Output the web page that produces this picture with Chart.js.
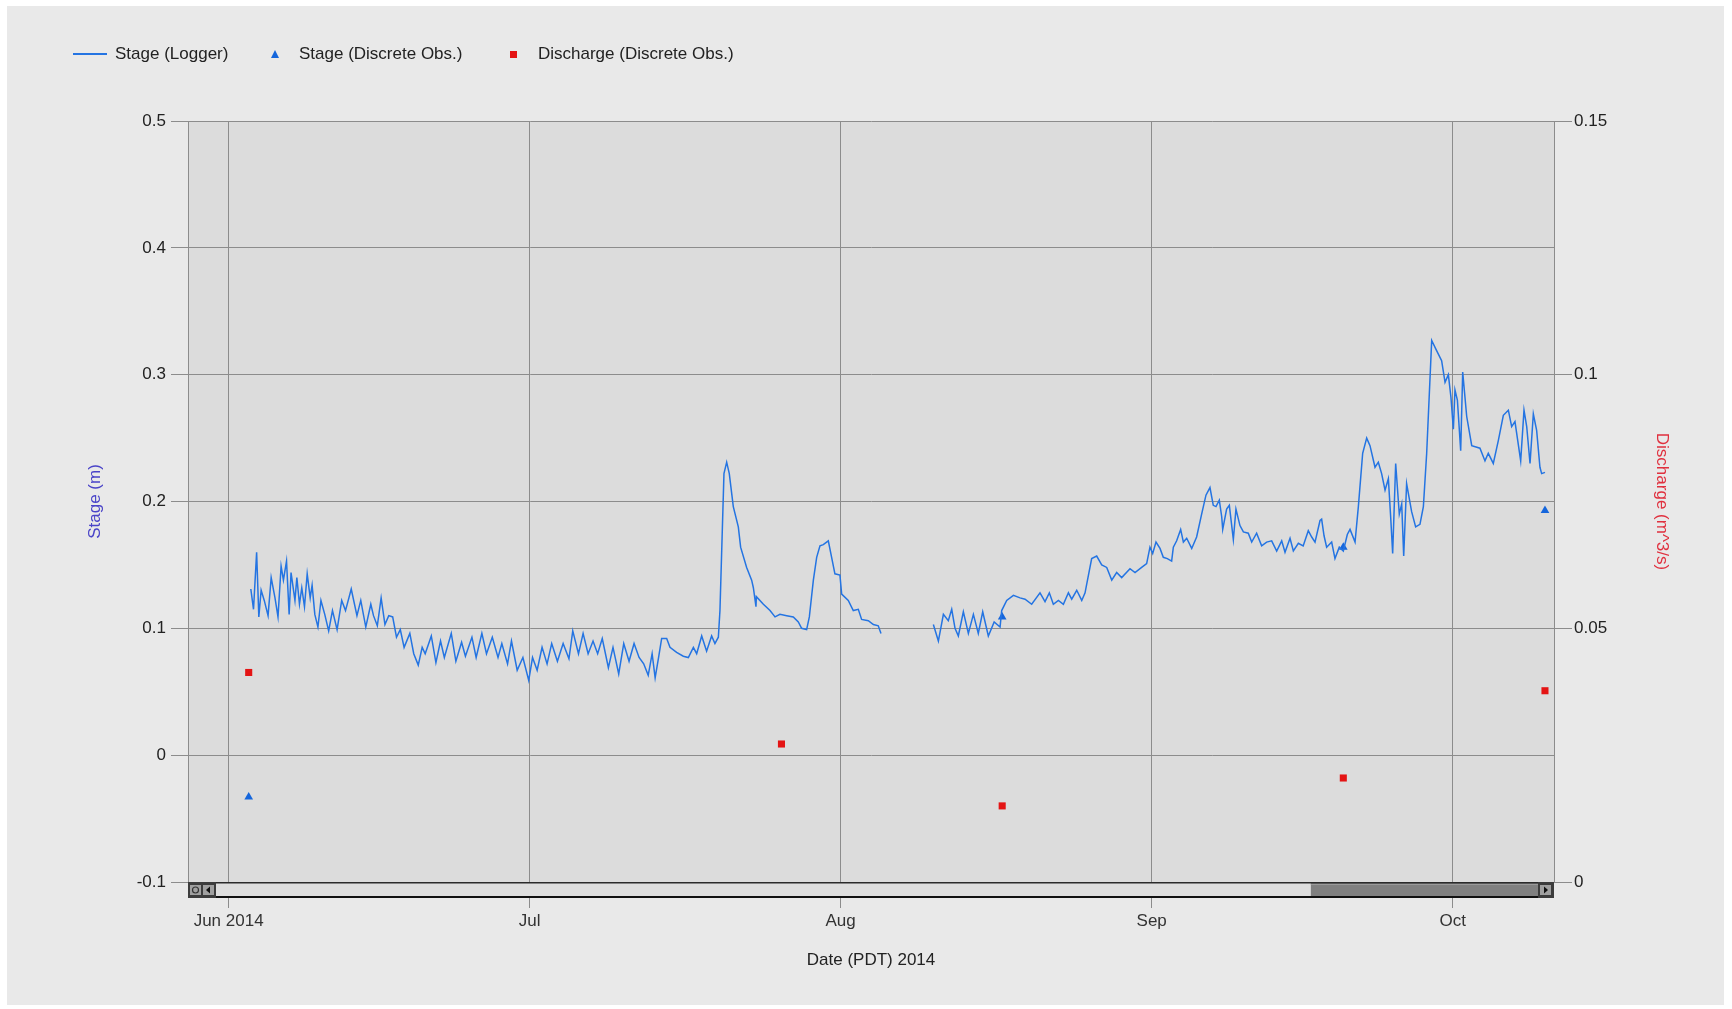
<!DOCTYPE html>
<html>
<head>
<meta charset="utf-8">
<title>Stage and Discharge 2014</title>
<script src="https://cdn.jsdelivr.net/npm/chart.js@4.4.1/dist/chart.umd.min.js"></script>
<style>
  html, body { margin: 0; padding: 0; background: #ffffff; width: 1732px; height: 1009px; overflow: hidden; }
  body { font-family: "Liberation Sans", Arial, sans-serif; }
  #panel { position: absolute; left: 7px; top: 6px; width: 1717px; height: 999px; background: #e9e9e9; }
  #chart { position: absolute; left: 0; top: 0; }
  .lg-text { position: absolute; top: 44px; height: 20px; line-height: 20px; font-size: 17px; color: #222; white-space: nowrap; }
  .lg-mark { position: absolute; }
</style>
</head>
<body>
<div id="panel"></div>
<canvas id="chart" width="1732" height="1009"></canvas>
<div id="legend"></div>
<script>
// Time axis: days since 1 Jun 2014 00:00 PDT
const monthStartDays = [0, 30, 61, 92, 122];
const monthTickLabels = ['Jun 2014', 'Jul', 'Aug', 'Sep', 'Oct'];

// Logger stage record (m); null marks the data gap in early August
const loggerDays = [
  2.21, 2.48, 2.79, 3.01, 3.24, 3.55, 3.93, 4.24, 4.62, 4.92,
  5.23, 5.46, 5.77, 6.03, 6.22, 6.61, 6.80, 7.06, 7.29, 7.56,
  7.83, 8.13, 8.32, 8.59, 8.90, 9.20, 9.58, 9.97, 10.35, 10.81,
  11.27, 11.65, 12.22, 12.79, 13.17, 13.67, 14.17, 14.44, 14.82, 15.20,
  15.58, 15.96, 16.35, 16.73, 17.11, 17.49, 18.06, 18.45, 18.90, 19.29,
  19.59, 20.20, 20.66, 21.12, 21.50, 22.19, 22.65, 23.22, 23.60, 24.25,
  24.67, 25.24, 25.70, 26.28, 26.85, 27.23, 27.80, 28.19, 28.76, 29.33,
  29.91, 30.29, 30.75, 31.24, 31.74, 32.20, 32.77, 33.34, 33.92, 34.30,
  34.87, 35.33, 35.83, 36.32, 36.78, 37.24, 37.85, 38.31, 38.88, 39.38,
  39.91, 40.41, 40.91, 41.37, 41.82, 42.21, 42.51, 42.85, 43.16, 43.66,
  43.99, 44.65, 45.32, 45.82, 46.32, 46.65, 47.15, 47.64, 48.14, 48.47,
  48.81, 48.97, 49.37, 49.64, 49.90, 50.30, 50.80, 51.03, 51.63, 52.13,
  52.30, 52.56, 52.60, 53.30, 53.96, 54.46, 54.95, 55.62, 56.28, 56.78,
  57.11, 57.61, 57.88, 58.28, 58.61, 58.94, 59.27, 59.77, 60.10, 60.43,
  60.93, 61.10, 61.76, 62.26, 62.76, 63.09, 63.76, 64.26, 64.75, 65.02,
  67.60,
  70.24, 70.74, 71.24, 71.73, 72.07, 72.40, 72.73, 73.23, 73.73, 74.23,
  74.72, 75.16, 75.72, 76.30, 76.89, 77.05, 77.55, 78.22, 78.88, 79.38,
  80.04, 80.87, 81.37, 81.80, 82.20, 82.70, 83.20, 83.70, 84.03, 84.53,
  85.03, 85.36, 85.53, 86.02, 86.52, 87.02, 87.52, 88.02, 88.51, 89.01,
  89.84, 90.34, 91.00, 91.50, 91.83, 92.10, 92.43, 92.83, 93.16, 93.56,
  93.99, 94.16, 94.49, 94.89, 95.16, 95.49, 95.99, 96.48, 96.98, 97.41,
  97.81, 98.14, 98.41, 98.74, 98.98, 99.08, 99.47, 99.74, 100.14, 100.40,
  100.80, 101.14, 101.63, 101.97, 102.46, 102.96, 103.46, 103.96, 104.46, 104.96,
  105.29, 105.79, 106.12, 106.62, 107.10, 107.61, 107.95, 108.28, 108.78, 108.94,
  109.18, 109.44, 109.94, 110.27, 110.70, 111.10, 111.50, 111.77, 112.27, 112.60,
  113.03, 113.43, 113.76, 114.26, 114.59, 114.92, 115.26, 115.59, 115.82, 116.02,
  116.32, 116.68, 116.92, 117.12, 117.41, 117.91, 118.31, 118.74, 119.08, 119.41,
  119.91, 120.40, 120.90, 121.24, 121.57, 121.83, 122.07, 122.23, 122.47, 122.80,
  123.00, 123.40, 123.90, 124.72, 125.22, 125.55, 126.05, 126.55, 127.05, 127.55,
  127.88, 128.21, 128.78, 129.11, 129.38, 129.71, 130.04, 130.37, 130.70, 130.87,
  131.20
];
const loggerStage = [
  0.131, 0.115, 0.160, 0.109, 0.130, 0.122, 0.110, 0.140, 0.124, 0.109,
  0.149, 0.138, 0.153, 0.111, 0.144, 0.122, 0.140, 0.119, 0.132, 0.117,
  0.143, 0.124, 0.134, 0.111, 0.101, 0.122, 0.111, 0.098, 0.114, 0.099,
  0.122, 0.114, 0.131, 0.110, 0.122, 0.101, 0.119, 0.110, 0.102, 0.124,
  0.103, 0.110, 0.109, 0.093, 0.099, 0.085, 0.096, 0.080, 0.071, 0.085,
  0.080, 0.094, 0.073, 0.090, 0.077, 0.096, 0.074, 0.089, 0.078, 0.093,
  0.077, 0.096, 0.080, 0.093, 0.077, 0.088, 0.072, 0.090, 0.067, 0.077,
  0.059, 0.077, 0.067, 0.085, 0.072, 0.088, 0.074, 0.088, 0.076, 0.098,
  0.080, 0.096, 0.080, 0.090, 0.080, 0.092, 0.069, 0.085, 0.064, 0.088,
  0.074, 0.088, 0.077, 0.072, 0.063, 0.080, 0.061, 0.077, 0.092, 0.092,
  0.085, 0.081, 0.078, 0.077, 0.085, 0.080, 0.094, 0.082, 0.094, 0.088,
  0.093, 0.114, 0.222, 0.231, 0.222, 0.196, 0.180, 0.164, 0.148, 0.138,
  0.132, 0.117, 0.125, 0.119, 0.114, 0.109, 0.111, 0.110, 0.109, 0.105,
  0.100, 0.099, 0.109, 0.138, 0.156, 0.165, 0.166, 0.169, 0.156, 0.143,
  0.142, 0.127, 0.122, 0.114, 0.115, 0.107, 0.106, 0.103, 0.102, 0.096,
  null,
  0.103, 0.090, 0.111, 0.106, 0.115, 0.100, 0.094, 0.113, 0.096, 0.111,
  0.096, 0.113, 0.094, 0.105, 0.101, 0.114, 0.122, 0.126, 0.124, 0.123,
  0.119, 0.128, 0.121, 0.128, 0.119, 0.122, 0.119, 0.128, 0.123, 0.130,
  0.122, 0.128, 0.135, 0.155, 0.157, 0.150, 0.148, 0.138, 0.144, 0.140,
  0.147, 0.144, 0.148, 0.151, 0.164, 0.159, 0.168, 0.163, 0.156, 0.155,
  0.153, 0.164, 0.169, 0.178, 0.168, 0.171, 0.163, 0.172, 0.190, 0.205,
  0.211, 0.197, 0.196, 0.201, 0.188, 0.178, 0.194, 0.197, 0.170, 0.194,
  0.181, 0.176, 0.175, 0.168, 0.175, 0.165, 0.168, 0.169, 0.161, 0.169,
  0.160, 0.171, 0.161, 0.167, 0.165, 0.177, 0.172, 0.168, 0.185, 0.186,
  0.173, 0.164, 0.168, 0.155, 0.164, 0.161, 0.174, 0.178, 0.168, 0.196,
  0.238, 0.250, 0.244, 0.227, 0.231, 0.222, 0.209, 0.218, 0.188, 0.159,
  0.230, 0.190, 0.198, 0.157, 0.214, 0.192, 0.180, 0.182, 0.196, 0.238,
  0.327, 0.319, 0.311, 0.294, 0.300, 0.282, 0.257, 0.288, 0.280, 0.240,
  0.302, 0.267, 0.244, 0.242, 0.232, 0.238, 0.230, 0.248, 0.268, 0.272,
  0.259, 0.263, 0.232, 0.272, 0.259, 0.230, 0.269, 0.256, 0.227, 0.222,
  0.223
];

// Field visits: discrete stage (m) and discharge (m^3/s)
const visitDays = [2.0, 55.1, 77.1, 111.1, 131.2];
const visitStage = [-0.033, null, 0.109, 0.164, 0.193];
const visitDischarge = [0.0413, 0.0272, 0.0150, 0.0205, 0.0377];

const seriesLabels = ['Stage (Logger)', 'Stage (Discrete Obs.)', 'Discharge (Discrete Obs.)'];
const seriesColors = ['#2474e2', '#1566dc', '#e41414'];

const FONT = '"Liberation Sans", Arial, sans-serif';
const GRID = '#8c8c8c';

// Plain decimal tick text ("0", "0.05", "0.1", "-0.1")
const tickText = v => String(Number(Number(v).toFixed(3)) || 0);

// Plot background and the range scrollbar under the plot
const plotChrome = {
  id: 'plotChrome',
  beforeDraw(chart) {
    const { ctx, chartArea: a } = chart;
    ctx.save();
    ctx.fillStyle = '#dcdcdc';
    ctx.fillRect(a.left, a.top, a.right - a.left, a.bottom - a.top);
    ctx.restore();
  },
  afterDraw(chart) {
    const { ctx, chartArea: a } = chart;
    const y0 = a.bottom, h = 16, w = a.right - a.left;
    ctx.save();
    ctx.fillStyle = '#dedede';
    ctx.fillRect(a.left, y0, w, h);
    // thumb
    const t0 = a.left + w * 0.822, t1 = a.right - 16;
    ctx.fillStyle = '#808080';
    ctx.fillRect(t0, y0 + 1, t1 - t0, h - 2);
    ctx.fillStyle = '#9a9a9a';
    ctx.fillRect(t0, y0 + 2, t1 - t0, 1);
    // frame lines
    ctx.fillStyle = '#2a2a2a';
    ctx.fillRect(a.left, y0, w, 1.5);
    ctx.fillStyle = '#111';
    ctx.fillRect(a.left, y0 + h - 2, w, 2);
    // left buttons
    ctx.fillStyle = '#3c3c3c';
    ctx.fillRect(a.left, y0, 28, h);
    ctx.fillStyle = '#a0a0a0';
    ctx.fillRect(a.left + 2, y0 + 3, 11, h - 6);
    ctx.fillRect(a.left + 15, y0 + 3, 11, h - 6);
    ctx.strokeStyle = '#333';
    ctx.lineWidth = 1.2;
    ctx.beginPath();
    ctx.arc(a.left + 7.5, y0 + h / 2, 3, 0, Math.PI * 2);
    ctx.stroke();
    ctx.fillStyle = '#111';
    ctx.beginPath();
    ctx.moveTo(a.left + 18, y0 + h / 2);
    ctx.lineTo(a.left + 22, y0 + h / 2 - 3.5);
    ctx.lineTo(a.left + 22, y0 + h / 2 + 3.5);
    ctx.closePath();
    ctx.fill();
    // right button
    ctx.fillStyle = '#3c3c3c';
    ctx.fillRect(a.right - 16, y0, 16, h);
    ctx.fillStyle = '#a0a0a0';
    ctx.fillRect(a.right - 14, y0 + 3, 11, h - 6);
    ctx.fillStyle = '#111';
    ctx.beginPath();
    ctx.moveTo(a.right - 6, y0 + h / 2);
    ctx.lineTo(a.right - 10, y0 + h / 2 - 3.5);
    ctx.lineTo(a.right - 10, y0 + h / 2 + 3.5);
    ctx.closePath();
    ctx.fill();
    ctx.restore();
  }
};

const loggerPoints = loggerDays.map((d, i) => ({ x: d, y: loggerStage[i] }));
const stagePoints = visitDays.map((d, i) => ({ x: d, y: visitStage[i] })).filter(p => p.y !== null);
const dischargePoints = visitDays.map((d, i) => ({ x: d, y: visitDischarge[i] }));

Chart.defaults.font.family = FONT;
Chart.defaults.font.size = 17;
Chart.defaults.color = '#222';

const chart = new Chart(document.getElementById('chart'), {
  type: 'line',
  data: {
    datasets: [
      {
        label: seriesLabels[0],
        data: loggerPoints,
        yAxisID: 'y',
        borderColor: seriesColors[0],
        borderWidth: 1.5,
        pointRadius: 0,
        tension: 0,
        spanGaps: false
      },
      {
        label: seriesLabels[1],
        data: stagePoints,
        yAxisID: 'y',
        showLine: false,
        pointStyle: 'triangle',
        pointRadius: 5,
        pointBorderWidth: 0,
        pointBackgroundColor: seriesColors[1],
        borderColor: seriesColors[1]
      },
      {
        label: seriesLabels[2],
        data: dischargePoints,
        yAxisID: 'y2',
        showLine: false,
        pointStyle: 'rect',
        pointRadius: 5,
        pointBorderWidth: 0,
        pointBackgroundColor: seriesColors[2],
        borderColor: seriesColors[2]
      }
    ]
  },
  options: {
    responsive: false,
    animation: false,
    devicePixelRatio: 1,
    layout: { padding: { top: 121, left: 0, right: 0, bottom: 0 } },
    plugins: {
      legend: { display: false },
      tooltip: { enabled: false }
    },
    scales: {
      x: {
        type: 'linear',
        min: -4.05,
        max: 132.1,
        afterBuildTicks(scale) { scale.ticks = monthStartDays.map(v => ({ value: v })); },
        afterFit(scale) { scale.height = 127; },
        ticks: {
          autoSkip: false,
          maxRotation: 0,
          padding: 3,
          color: '#333',
          callback: (value, index) => monthTickLabels[index]
        },
        grid: { color: GRID, lineWidth: 1, tickLength: 26, drawOnChartArea: true },
        border: { display: false },
        title: { display: true, text: 'Date (PDT) 2014', color: '#222', padding: { top: 0, bottom: 38 } }
      },
      y: {
        position: 'left',
        min: -0.1,
        max: 0.5,
        afterFit(scale) { scale.width = 188; },
        ticks: { stepSize: 0.1, padding: 5, color: '#222', callback: tickText },
        grid: { color: GRID, lineWidth: 1, tickLength: 17 },
        border: { display: true, color: GRID, width: 1 },
        title: { display: true, text: 'Stage (m)', color: '#4a44c8', padding: { top: 85, bottom: 0 } }
      },
      y2: {
        position: 'right',
        min: 0,
        max: 0.15,
        afterFit(scale) { scale.width = 178; },
        ticks: { stepSize: 0.05, padding: 2, color: '#222', callback: tickText },
        grid: { color: GRID, lineWidth: 1, tickLength: 18, drawOnChartArea: false },
        border: { display: true, color: GRID, width: 1 },
        title: { display: true, text: 'Discharge (m^3/s)', color: '#e0303e', padding: { top: 60, bottom: 0 } }
      }
    }
  },
  plugins: [plotChrome]
});

// Legend row above the plot, built from the chart's datasets
const legendSpots = [
  { mark: { left: 73, top: 53, width: 34, height: 2 }, text: 115 },
  { mark: { left: 270.5, top: 50 }, text: 299 },
  { mark: { left: 510, top: 50.5, width: 7, height: 7 }, text: 538 }
];
const legend = document.getElementById('legend');
chart.data.datasets.forEach((ds, i) => {
  const spot = legendSpots[i];
  const mark = document.createElement('div');
  mark.className = 'lg-mark';
  mark.style.left = spot.mark.left + 'px';
  mark.style.top = spot.mark.top + 'px';
  if (ds.pointStyle === 'triangle') {
    mark.style.width = '0';
    mark.style.height = '0';
    mark.style.borderLeft = '4.5px solid transparent';
    mark.style.borderRight = '4.5px solid transparent';
    mark.style.borderBottom = '8px solid ' + ds.pointBackgroundColor;
  } else {
    mark.style.width = spot.mark.width + 'px';
    mark.style.height = spot.mark.height + 'px';
    mark.style.background = ds.pointStyle === 'rect' ? ds.pointBackgroundColor : ds.borderColor;
  }
  legend.appendChild(mark);
  const label = document.createElement('div');
  label.className = 'lg-text';
  label.style.left = spot.text + 'px';
  label.textContent = ds.label;
  legend.appendChild(label);
});
</script>
</body>
</html>
